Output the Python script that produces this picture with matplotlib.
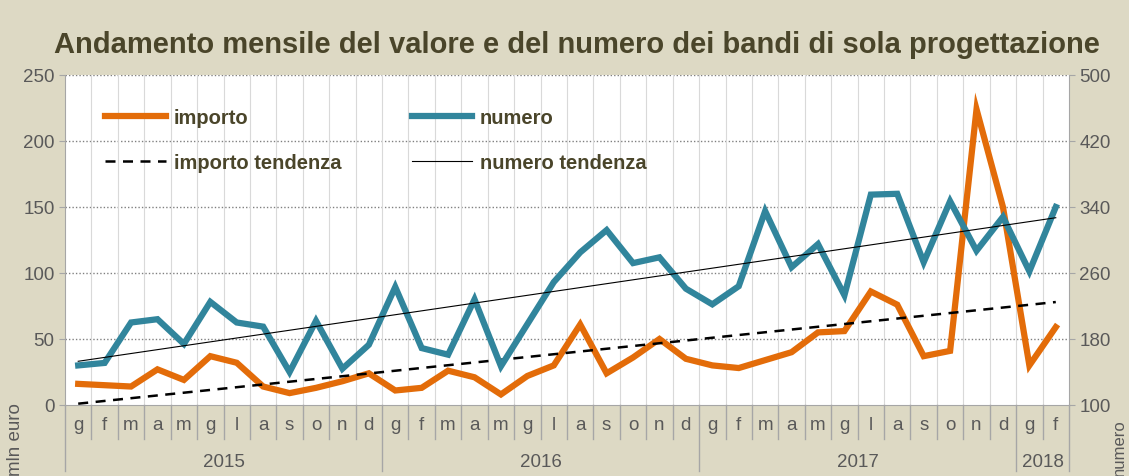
import numpy as np
import matplotlib
matplotlib.use("Agg")
from matplotlib import pyplot as plt
from matplotlib import transforms

months = ['g', 'f', 'm', 'a', 'm', 'g', 'l', 'a', 's', 'o', 'n', 'd'] * 3 + ['g', 'f']
years = ['2015', '2016', '2017', '2018']
year_len = [12, 12, 12, 2]

importo = [16, 15, 14, 27, 19, 37, 32, 14, 9, 13, 18, 24,
           11, 13, 26, 21, 8, 22, 30, 61, 24, 36, 50, 35,
           30, 28, 34, 40, 55, 56, 86, 76, 37, 41, 224, 150,
           30, 59]
numero = [148, 151, 200, 204, 174, 225, 200, 195, 140, 202, 144, 173,
          243, 169, 161, 228, 147, 198, 249, 285, 312, 272, 279, 241,
          222, 244, 335, 267, 295, 233, 355, 356, 273, 347, 287, 328,
          262, 340]

# trend lines (start, end)
importo_trend = [1, 78]
numero_trend = [153, 327]

BG = '#DDD9C4'
TXT = '#4A452A'
TICK = '#595959'
plt.rcParams['font.family'] = ['Liberation Sans', 'DejaVu Sans']

fig = plt.figure(figsize=(11.29, 4.77), dpi=100, facecolor=BG)
ax = fig.add_axes([65/1129, 1-406/477, (1069-65)/1129, 330/477])
ax.set_facecolor('white')
ax2 = ax.twinx()

x = np.arange(len(months))
l1, = ax.plot(x, importo, color='#E36C09', lw=4.5, solid_joinstyle='miter', zorder=4)
lt1, = ax.plot([x[0], x[-1]], importo_trend, color='black', lw=1.8, ls=(0, (4, 3)), zorder=5)
l2, = ax2.plot(x, numero, color='#31859C', lw=4.5, solid_joinstyle='miter', zorder=4)
lt2, = ax2.plot([x[0], x[-1]], numero_trend, color='black', lw=0.8, zorder=5)

ax.set_xlim(-0.5, len(months) - 0.5)
ax.set_ylim(0, 250)
ax2.set_ylim(100, 500)
ax.set_yticks(range(0, 251, 50))
ax2.set_yticks(range(100, 501, 80))
ax.set_xticks([])
ax.tick_params(axis='y', colors=TICK, labelsize=13.5, length=4, color='#A6A6A6')
ax2.tick_params(axis='y', colors=TICK, labelsize=13.5, length=4, color='#A6A6A6')
ax.spines['top'].set_visible(False)
ax2.spines['top'].set_visible(False)
ax2.spines['left'].set_visible(False)
ax2.spines['bottom'].set_visible(False)
ax.spines['right'].set_visible(False)
ax.spines['left'].set_color('#A6A6A6')
ax.spines['bottom'].set_color('#A6A6A6')
ax2.spines['right'].set_color('#A6A6A6')

for v in range(50, 251, 50):
    ax.axhline(v, color='#808080', lw=1, ls=(0, (1, 1.5)), zorder=1)
for k in range(1, len(months)):
    ax.axvline(k - 0.5, color='#D9D9D9', lw=0.8, zorder=1)

# category axis below the plot
tr = transforms.blended_transform_factory(ax.transData, ax.transAxes)
bounds = np.cumsum([0] + year_len)
for k in range(len(months) + 1):
    low = -0.2 if k in bounds else -0.103
    ax.plot([k - 0.5, k - 0.5], [0, low], transform=tr, color='#A6A6A6', lw=1, clip_on=False)
for i, m in enumerate(months):
    ax.text(i, -0.058, m, transform=tr, ha='center', va='center', fontsize=13.5, color=TICK)
for y, a, b in zip(years, bounds[:-1], bounds[1:]):
    ax.text((a + b - 1) / 2, -0.17, y, transform=tr, ha='center', va='center', fontsize=13.5, color=TICK)

fig.text(15/1129, 1-440/477, 'mln euro', rotation=90, ha='center', va='center', fontsize=13.5, color=TICK)
fig.text(1119/1129, 1-448/477, 'numero', rotation=90, ha='center', va='center', fontsize=12, color=TICK)

leg = ax.legend([l1, lt1, l2, lt2], ['importo', 'importo tendenza', 'numero', 'numero tendenza'],
                ncol=2, frameon=False, loc='upper left', bbox_to_anchor=(0.04, 0.90),
                borderpad=0, borderaxespad=0, handlelength=3.0, handletextpad=0.4,
                columnspacing=3.5, labelspacing=1.3,
                prop={'weight': 'bold', 'size': 14.5})
for t in leg.get_texts():
    t.set_color(TXT)

fig.text(0.511, 0.905, 'Andamento mensile del valore e del numero dei bandi di sola progettazione',
         ha='center', va='center', fontsize=21, fontweight='bold', color=TXT)

fig.savefig('out.png', dpi=100, facecolor=BG)
